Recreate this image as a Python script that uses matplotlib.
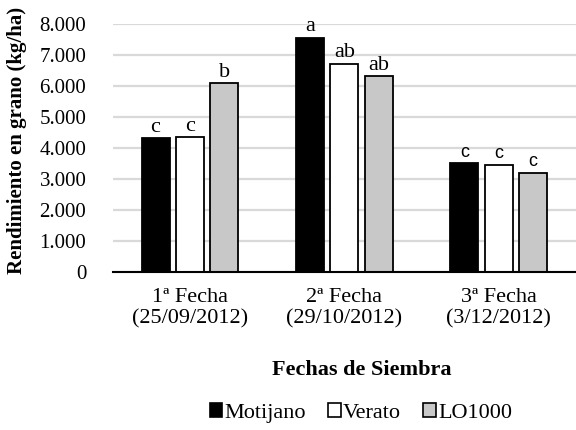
import matplotlib
matplotlib.use("Agg")
import matplotlib.pyplot as plt
from matplotlib.patches import Patch
import numpy as np

# Grain yield (kg/ha) per sowing date and cultivar
fechas = ["1ª Fecha\n(25/09/2012)", "2ª Fecha\n(29/10/2012)", "3ª Fecha\n(3/12/2012)"]
variedades = ["Motijano", "Verato", "LO1000"]
motijano = [4310, 7560, 3500]
verato = [4340, 6710, 3450]
lo1000 = [6090, 6320, 3190]
letras_motijano = ["c", "a", "c"]
letras_verato = ["c", "ab", "c"]
letras_lo1000 = ["b", "ab", "c"]
yticks = [0, 1000, 2000, 3000, 4000, 5000, 6000, 7000, 8000]
ytick_labels = ["0", "1.000", "2.000", "3.000", "4.000", "5.000", "6.000", "7.000", "8.000"]

serif = ["Liberation Serif", "DejaVu Serif"]
plt.rcParams["font.family"] = serif

fig = plt.figure(figsize=(5.76, 4.30), dpi=100)
ax = fig.add_axes([0.1957, 0.368, 0.8043, 0.576])

series = [motijano, verato, lo1000]
letters = [letras_motijano, letras_verato, letras_lo1000]
colors = ["black", "white", "#c8c8c8"]
x = np.arange(len(fechas))
step = 0.2226
width = 0.181

for i, (vals, col, lab) in enumerate(zip(series, colors, letters)):
    pos = x + (i - 1) * step
    ax.bar(pos, vals, width=width, color=col, edgecolor="black",
           linewidth=1.3, zorder=3)
    for j, (p, v, t) in enumerate(zip(pos, vals, lab)):
        if j == 2:
            ax.text(p, v + 90, t, ha="center", va="bottom", fontsize=13,
                    family=["Liberation Sans", "DejaVu Sans"], zorder=4)
        else:
            ax.text(p, v + 50, t, ha="center", va="bottom", fontsize=16,
                    zorder=4)

ax.set_xlim(-0.5, 2.5)
ax.set_ylim(0, 8000)
ax.set_yticks(yticks)
ax.set_yticklabels(ytick_labels, fontsize=15)
ax.set_xticks(x)
ax.set_xticklabels(fechas, fontsize=16, linespacing=1.1)
ax.tick_params(axis="y", length=0, pad=19)
ax.tick_params(axis="x", length=0, pad=12)
ax.yaxis.grid(True, color="#d9d9d9", linewidth=1.6, zorder=0)
ax.set_axisbelow(True)
for s in ["top", "right", "left"]:
    ax.spines[s].set_visible(False)
ax.spines["bottom"].set_linewidth(1.5)
ax.spines["bottom"].set_zorder(5)

fig.text(17 / 576, 1 - 140 / 430, "Rendimiento en grano (kg/ha)", rotation=90,
         ha="center", va="center", fontsize=15, fontweight="bold")
fig.text(362 / 576, 1 - 370 / 430, "Fechas de Siembra", ha="center",
         va="center", fontsize=16, fontweight="bold")

handles = [Patch(facecolor=c, edgecolor="black", linewidth=1.2) for c in colors]
fig.legend(handles, variedades, loc="center", bbox_to_anchor=(361 / 576, 1 - 413 / 430),
           ncol=3, frameon=False, fontsize=16, handlelength=0.55,
           handleheight=0.55, handletextpad=0.12, columnspacing=1.0,
           borderaxespad=0)

fig.savefig("out.png", dpi=100)
